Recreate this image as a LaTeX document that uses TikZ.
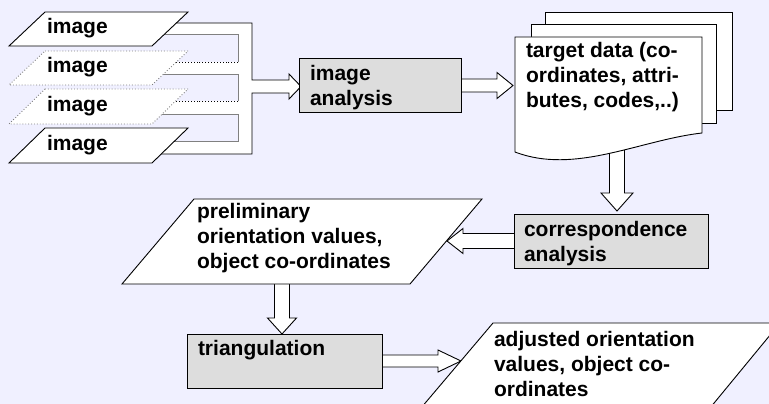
\documentclass[tikz,border=0pt]{standalone}
\usepackage{fontspec}
\setmainfont{Liberation Sans}
\usetikzlibrary{calc}
\definecolor{bgcol}{RGB}{240,240,255}
\definecolor{boxgray}{RGB}{221,221,221}
\definecolor{edgegray}{RGB}{128,128,128}
\pgfdeclarelayer{bglayer}
\pgfdeclarelayer{arrowlayer}
\pgfsetlayers{bglayer,arrowlayer,main}

% hollow block arrow: #1 tail, #2 tip, #3 half shaft width, #4 half head width, #5 head length
\newcommand\hollowarrow[5]{%
  \path (#1) coordinate (ha-a) (#2) coordinate (ha-b);
  \path ($(ha-b)!#5!(ha-a)$) coordinate (ha-h);
  \path[blockarrow] ($(ha-a)!#3!90:(ha-b)$) -- ($(ha-h)!#3!90:(ha-b)$)
    -- ($(ha-h)!#4!90:(ha-b)$) -- (ha-b) -- ($(ha-h)!#4!-90:(ha-b)$)
    -- ($(ha-h)!#3!-90:(ha-b)$) -- ($(ha-a)!#3!-90:(ha-b)$);
}

\newcommand\textlines[1]{\parbox[t]{300pt}{\raggedright #1}}

\begin{document}
\begin{tikzpicture}[x=1pt,y=-1pt,
  txt/.style={anchor=base west, inner sep=0pt, outer sep=0pt,
    font=\bfseries\fontsize{21}{25}\selectfont},
  procbox/.style={draw=black, fill=boxgray, line width=1pt, anchor=north west,
    inner sep=0pt, outer sep=0pt},
  datashape/.style={draw=black, fill=white, line width=0.9pt, line join=miter},
  ghostshape/.style={draw=edgegray, fill=white, dotted, line width=0.9pt},
  blockarrow/.style={draw=black, fill=white, line width=0.9pt, line join=miter},
  innerline/.style={draw=edgegray, line width=0.9pt},
]
\useasboundingbox (0,0) rectangle (769,404);
\begin{pgfonlayer}{bglayer}
  \fill[bgcol] (0,0) rectangle (769,404);
\end{pgfonlayer}
\clip (0,0) rectangle (769,404);

% process boxes
\node[procbox, minimum width=162pt, minimum height=53pt] (ia) at (299,59) {};
\node[procbox, minimum width=194pt, minimum height=54pt] (ca) at (514,214) {};
\node[procbox, minimum width=195pt, minimum height=54pt] (tr) at (187,334) {};

% stacked target-data sheets
\draw[datashape] (545,12) rectangle (732,110);
\draw[datashape] (531,24) rectangle (716,123);
\draw[datashape] (515,37) -- (702,37) -- (702,133)
  .. controls (640,140) and (575,175) .. (515,152) -- cycle;

% image sheets
\draw[datashape]  (45,12)  -- (188,12)  -- (152,46)  -- (9,46)  -- cycle;
\draw[ghostshape] (45,51)  -- (188,51)  -- (152,85)  -- (9,85)  -- cycle;
\draw[ghostshape] (45,89)  -- (188,89)  -- (152,124) -- (9,124) -- cycle;
\draw[datashape]  (45,128) -- (188,128) -- (152,163) -- (9,163) -- cycle;

% data parallelograms
\draw[datashape] (194,199) -- (482,199) -- (410,284) -- (122,284) -- cycle;
\draw[datashape] (493,323) -- (780,323) -- (710,408) -- (421,408) -- cycle;

% arrow anchor points on the shapes
\coordinate (tdw) at (513,0);
\coordinate (tds) at (617,140);
\coordinate (prr) at (447,0);
\coordinate (prb) at (282,270);
\coordinate (adl) at (461,0);
\coordinate (bustip) at (301,86.5);

% labels
\node[txt] (im1) at (47,34)  {image};
\node[txt] (im2) at (47,73)  {image};
\node[txt] (im3) at (47,111) {image};
\node[txt] (im4) at (47,150) {image};
\node[txt] (iat) at (310,80.5) {\textlines{image\\analysis}};
\node[txt] (tdt) at (526,58) {\textlines{target data (co-\\ordinates, attri-\\butes, codes,..)}};
\node[txt] (cat) at (524,236) {\textlines{correspondence\\analysis}};
\node[txt] (prt) at (197,218) {\textlines{preliminary\\orientation values,\\object co-ordinates}};
\node[txt] (trt) at (198,355) {triangulation};
\node[txt] (adt) at (494,346) {\textlines{adjusted orientation\\values, object co-\\ordinates}};

\begin{pgfonlayer}{arrowlayer}
  % merging hollow arrow from the image sheets
  \fill[white] (150,23) -- (252,23) -- (252,80) -- (289,80) -- (289,74) -- (bustip)
    -- (289,99) -- (289,93) -- (252,93) -- (252,154) -- (150,154) -- (150,141)
    -- (238,141) -- (238,114) -- (150,114) -- (150,101) -- (238,101) -- (238,74)
    -- (150,74) -- (150,62) -- (238,62) -- (238,34) -- (150,34) -- cycle;
  \draw[blockarrow, fill=none] (150,23) -- (252,23) -- (252,80) -- (289,80) -- (289,74)
    -- (bustip) -- (289,99) -- (289,93) -- (252,93) -- (252,154) -- (150,154);
  \draw[innerline] (150,34) -- (238,34) -- (238,62);
  \draw[innerline] (150,74) -- (238,74) -- (238,101);
  \draw[innerline] (150,114) -- (238,114) -- (238,141) -- (150,141);
  \draw[black, dotted, line width=0.9pt] (238,62) -- (150,62);
  \draw[black, dotted, line width=0.9pt] (238,101) -- (150,101);

  \hollowarrow{ia.east}{ia.east -| tdw}{6.5pt}{13pt}{16pt}
  \hollowarrow{tds}{$(tds |- ca.north)+(0,-3)$}{7.5pt}{16pt}{18pt}
  \hollowarrow{ca.west}{ca.west -| prr}{7.5pt}{12.5pt}{16pt}
  \hollowarrow{prb}{prb |- tr.north}{7.5pt}{14.5pt}{16pt}
  \hollowarrow{tr.east}{tr.east -| adl}{6pt}{11pt}{23pt}
\end{pgfonlayer}
\end{tikzpicture}
\end{document}
